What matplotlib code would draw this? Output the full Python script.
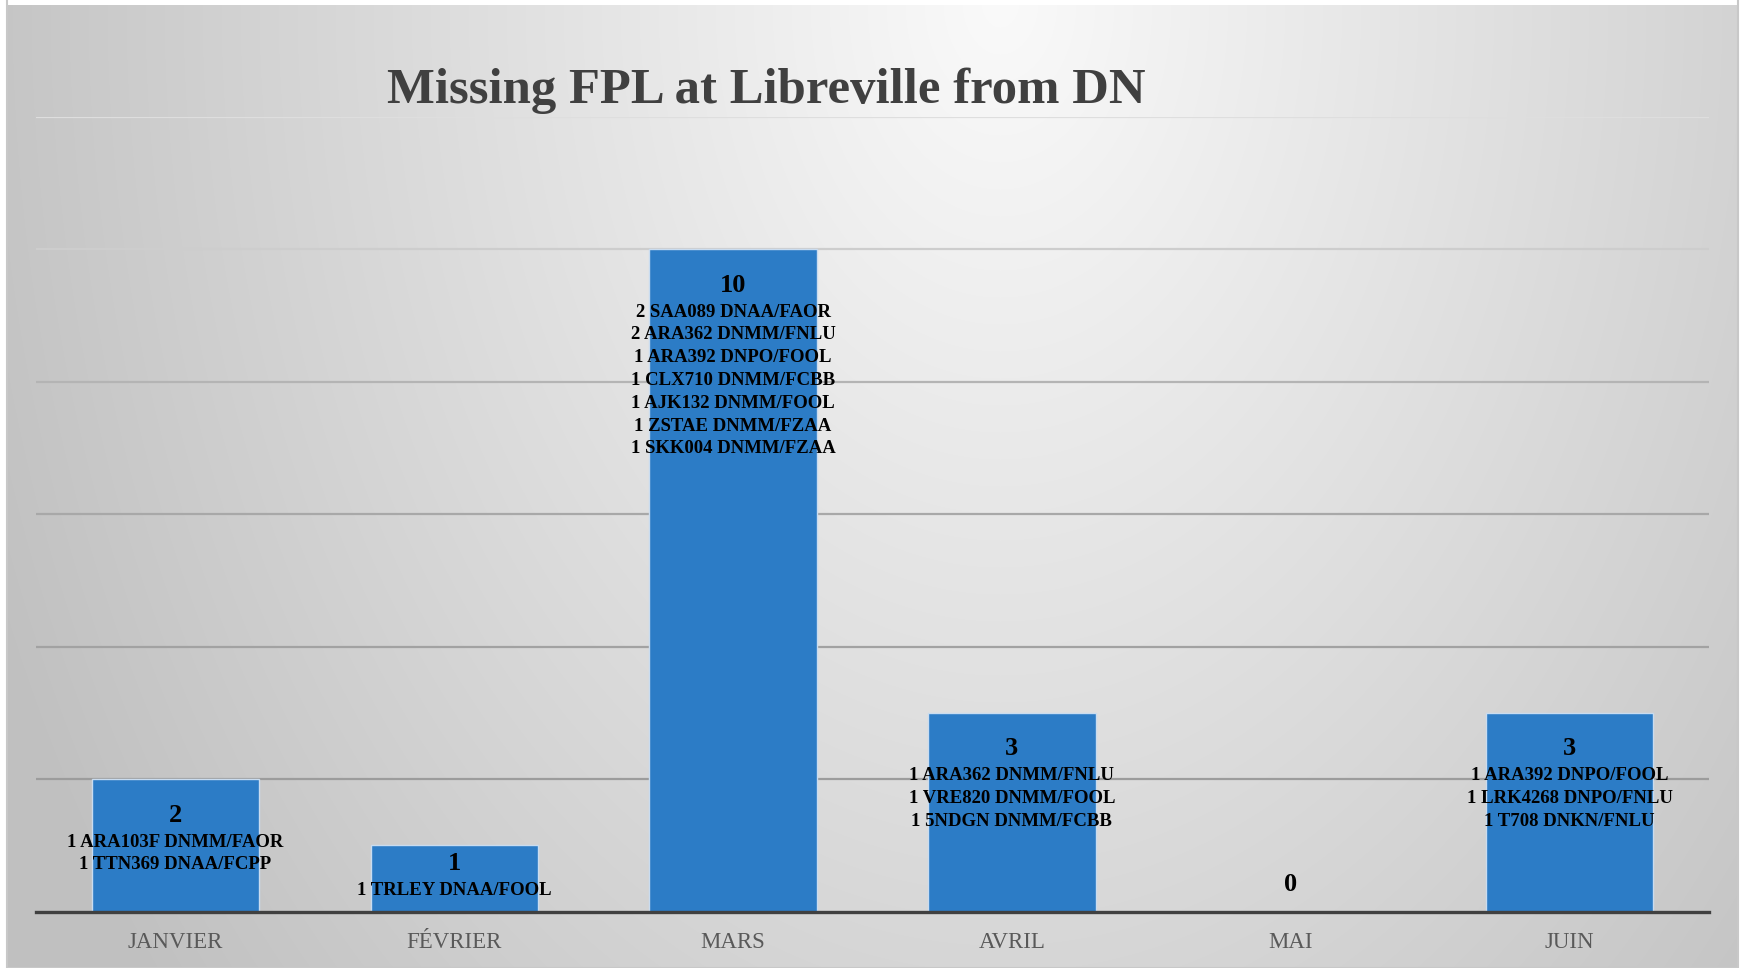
import numpy as np
import matplotlib
matplotlib.use("Agg")
import matplotlib.pyplot as plt
from matplotlib.patches import Rectangle

# ---- data ----
months = ["JANVIER", "FÉVRIER", "MARS", "AVRIL", "MAI", "JUIN"]
counts = [2, 1, 10, 3, 0, 3]
details = [
    ["1 ARA103F DNMM/FAOR", "1 TTN369 DNAA/FCPP"],
    ["1 TRLEY DNAA/FOOL"],
    ["2 SAA089 DNAA/FAOR", "2 ARA362 DNMM/FNLU", "1 ARA392 DNPO/FOOL",
     "1 CLX710 DNMM/FCBB", "1 AJK132 DNMM/FOOL", "1 ZSTAE DNMM/FZAA",
     "1 SKK004 DNMM/FZAA"],
    ["1 ARA362 DNMM/FNLU", "1 VRE820 DNMM/FOOL", "1 5NDGN DNMM/FCBB"],
    [],
    ["1 ARA392 DNPO/FOOL", "1 LRK4268 DNPO/FNLU", "1 T708 DNKN/FNLU"],
]
grid_levels = [2, 4, 6, 8, 10, 12]
grid_colors = ["#9c9c9c", "#a2a2a2", "#a8a8a8", "#b4b4b4", "#cdcdcd", "#dedede"]

W, H = 1741, 968
SERIF = ["Liberation Serif", "DejaVu Serif"]

fig = plt.figure(figsize=(W / 100, H / 100), dpi=100, facecolor="white")

# ---- chart area: radial grey gradient ----
bg = fig.add_axes([7 / W, 0, (1738 - 7) / W, 1 - 5 / H])
bg.set_axis_off()
yy, xx = np.mgrid[0:963, 0:1731]
d = np.sqrt(((xx + 7 - 1000) / 950.0) ** 2 + ((yy + 5) / 1350.0) ** 2)
val = np.clip(250 - 50 * d, 192, 252) / 255.0
rgb = np.dstack([val, val, val])
bg.imshow(rgb, aspect="auto", interpolation="bilinear")
bg.add_patch(Rectangle((0, 0), 1, 1.2, transform=bg.transAxes, fill=False,
                       edgecolor="#c8c8c8", lw=1.5, clip_on=False))

# ---- plot area ----
ax = fig.add_axes([36 / W, 1 - 911.5 / H, (1709 - 36) / W, (911.5 - 116.6) / H])
ax.patch.set_alpha(0)
ax.set_xlim(-0.5, len(months) - 0.5)
ax.set_ylim(0, 12)
for s in ax.spines.values():
    s.set_visible(False)
ax.set_xticks([])
ax.set_yticks([])

for lvl, c in zip(grid_levels, grid_colors):
    ax.axhline(lvl, color=c, lw=1.6, zorder=1)
ax.axhline(0, color="#404040", lw=2.4, zorder=4, clip_on=False)

x = np.arange(len(months))
ax.bar(x, counts, width=0.6, color="#2c7cc6", edgecolor="#c9dcf0", lw=1, zorder=2)

# ---- data labels ----
px_per_unit = (911.5 - 116.6) / 12
for i, (v, lines) in enumerate(zip(counts, details)):
    if v == 0:
        ax.annotate(str(v), (i, 0), xytext=(0, 27), textcoords="offset pixels",
                    ha="center", va="center", fontsize=19, fontweight="bold",
                    family=SERIF, color="black", zorder=5)
        continue
    bar_h = v * px_per_unit
    num_off, first_off, step = 36, 63, 22.8
    block_bot = first_off + (len(lines) - 1) * step + 12
    shift = 0
    if block_bot > bar_h:
        # label too tall for the bar: centre it on the bar instead
        shift = bar_h / 2 - (20 + block_bot) / 2 - 3
    ax.annotate(str(v), (i, v), xytext=(0, -(num_off + shift)),
                textcoords="offset pixels", ha="center", va="center",
                fontsize=19, fontweight="bold", family=SERIF, color="black", zorder=5)
    for k, t in enumerate(lines):
        ax.annotate(t, (i, v), xytext=(0, -(first_off + k * step + shift)),
                    textcoords="offset pixels", ha="center", va="center",
                    fontsize=13.5, fontweight="bold", family=SERIF, color="black",
                    zorder=5)

# ---- category labels ----
for i, m in enumerate(months):
    ax.annotate(m, (i, 0), xytext=(0, -31), textcoords="offset pixels",
                ha="center", va="center", fontsize=16.5, family=SERIF,
                color="#595959", annotation_clip=False)

fig.text(766 / W, 1 - 103 / H, "Missing FPL at Libreville from DN",
         ha="center", va="baseline", fontsize=36.5, fontweight="bold",
         family=SERIF, color="#404040")

fig.savefig("out.png", dpi=100)
